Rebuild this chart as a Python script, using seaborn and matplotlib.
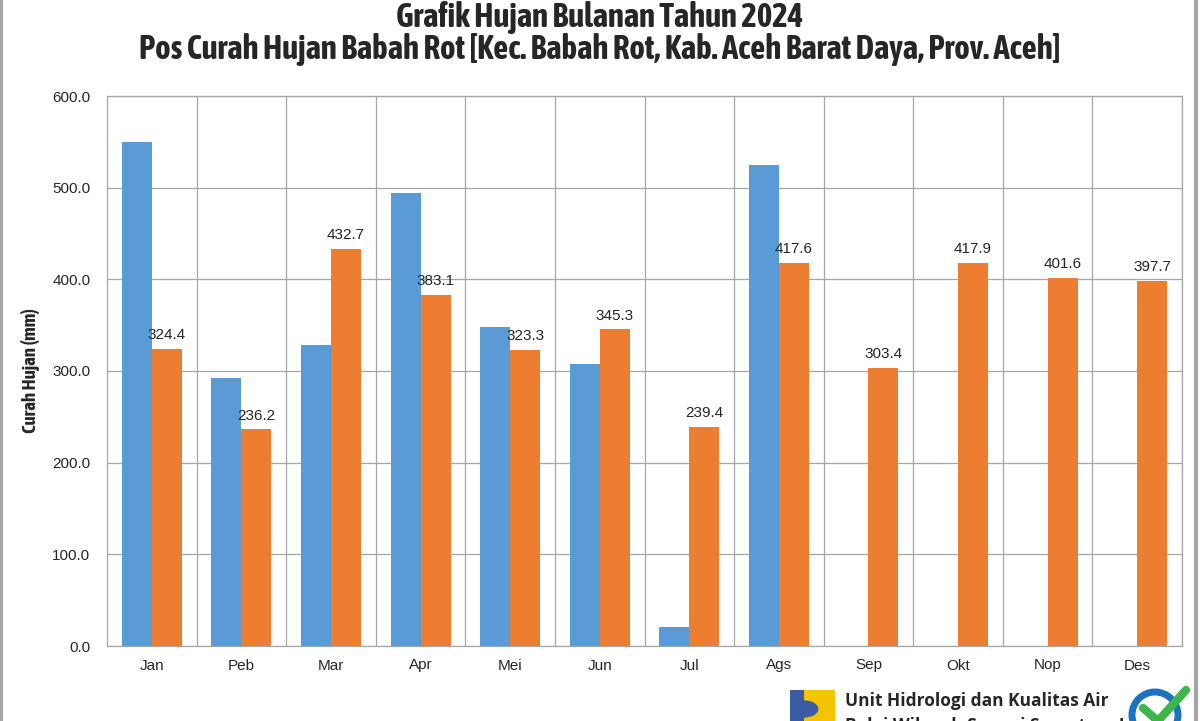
import numpy as np
import pandas as pd
import matplotlib
matplotlib.use("Agg")
import matplotlib.pyplot as plt
import matplotlib.patches as mpatches
from matplotlib import font_manager
import seaborn as sns

months = ["Jan", "Peb", "Mar", "Apr", "Mei", "Jun", "Jul", "Ags", "Sep", "Okt", "Nop", "Des"]
hujan_2024 = [550.0, 292.0, 328.0, 494.0, 348.0, 308.0, 21.0, 525.0, np.nan, np.nan, np.nan, np.nan]
hujan_rerata = [324.4, 236.2, 432.7, 383.1, 323.3, 345.3, 239.4, 417.6, 303.4, 417.9, 401.6, 397.7]
series_names = ["2024", "Rerata"]
yticks = [0, 100, 200, 300, 400, 500, 600]
title1 = "Grafik Hujan Bulanan Tahun 2024"
title2 = "Pos Curah Hujan Babah Rot [Kec. Babah Rot, Kab. Aceh Barat Daya, Prov. Aceh]"

df = pd.DataFrame({
    "Bulan": months * 2,
    "Curah": hujan_2024 + hujan_rerata,
    "Seri": [series_names[0]] * 12 + [series_names[1]] * 12,
})

sns.set_theme(style="white")
plt.rcParams["font.family"] = ["Liberation Sans", "DejaVu Sans"]

# look for a condensed / narrow bold family
narrow = None
for f in font_manager.fontManager.ttflist:
    if ("Narrow" in f.name or "Condensed" in f.name) and f.weight in ("bold", 700):
        narrow = f.name
        break
if narrow is None:
    for f in font_manager.fontManager.ttflist:
        if "Narrow" in f.name or "Condensed" in f.name:
            narrow = f.name
            break
title_fam = [narrow, "Liberation Sans"] if narrow else ["Liberation Sans"]

fig = plt.figure(figsize=(12, 7.21), dpi=100)
ax = fig.add_axes([107/1200, 1 - 646/721, (1182-107)/1200, (646-96)/721])

sns.barplot(data=df, x="Bulan", y="Curah", hue="Seri", order=months, hue_order=series_names,
            palette=["#5B9BD5", "#ED7D31"], width=0.67, saturation=1, legend=False, ax=ax,
            linewidth=0, zorder=3)

ax.set_ylim(0, 600)
ax.set_xlim(-0.5, 11.5)
ax.set_yticks(yticks)
ax.set_yticklabels([f"{v:.1f}" for v in yticks], fontsize=11)
ax.tick_params(axis="x", labelsize=11, length=0, pad=9)
ax.tick_params(axis="y", length=0, pad=12)
ax.set_xlabel("")
ax.set_ylabel("Curah Hujan (mm)", fontsize=11 if narrow is None else 13.5, fontweight="bold",
              family=title_fam, labelpad=9)

for v in yticks:
    ax.axhline(v, color="#A6A6A6", lw=0.9, zorder=1)
for i in range(12):
    ax.axvline(i + 0.5, color="#A6A6A6", lw=0.9, zorder=1)
for s in ax.spines.values():
    s.set_color("#A6A6A6")
    s.set_linewidth(0.9)

orange = ax.containers[1]
ax.bar_label(orange, labels=[f"{v:.1f}" for v in hujan_rerata], padding=5, fontsize=11)

t1 = fig.text(0.5, 1 - 17/721, title1, ha="center", va="center",
              fontsize=21, fontweight="bold", family=title_fam)
t2 = fig.text(0.5, 1 - 49/721, title2, ha="center", va="center",
              fontsize=21, fontweight="bold", family=title_fam)

# fit title widths to the reference (~922 px for line 2)
fig.canvas.draw()
r = fig.canvas.get_renderer()
w2 = t2.get_window_extent(r).width
scale = min(1.2, 922 / w2)
t1.set_fontsize(21 * scale)
t2.set_fontsize(21 * scale)

fig.patches.append(mpatches.Rectangle((0.001, -0.01), 0.996, 1.02, transform=fig.transFigure,
                                      fill=False, edgecolor="#A6A6A6", lw=3))

# footer logo
fig.patches.append(mpatches.Rectangle((790/1200, 0), 45/1200, 31/721, transform=fig.transFigure,
                                      facecolor="#F5C400", edgecolor="none"))
fig.patches.append(mpatches.Rectangle((790/1200, 0), 14/1200, 31/721, transform=fig.transFigure,
                                      facecolor="#3B5BA5", edgecolor="none"))
fig.patches.append(mpatches.Wedge((804/1200, 12/721), 0.012, -90, 90, transform=fig.transFigure,
                                  facecolor="#3B5BA5", edgecolor="none"))
fig.text(845/1200, 1 - 701/721, "Unit Hidrologi dan Kualitas Air", ha="left", va="center",
         fontsize=12.5, fontweight="bold", family=["Open Sans", "DejaVu Sans"])
fig.text(845/1200, 1 - 726/721, "Balai Wilayah Sungai Sumatera I", ha="left", va="center",
         fontsize=12.5, fontweight="bold", family=["Open Sans", "DejaVu Sans"])
fig.patches.append(mpatches.Ellipse((1155/1200, 1 - 715/721), 46/1200, 46/721, transform=fig.transFigure,
                                    facecolor="white", edgecolor="#1E73BE", lw=5))
fig.lines.append(plt.Line2D([1143/1200, 1158/1200, 1186/1200], [1 - 708/721, 1 - 721/721, 1 - 690/721],
                            transform=fig.transFigure, color="#3DB54A", lw=6))

fig.savefig("out.png", dpi=100)
